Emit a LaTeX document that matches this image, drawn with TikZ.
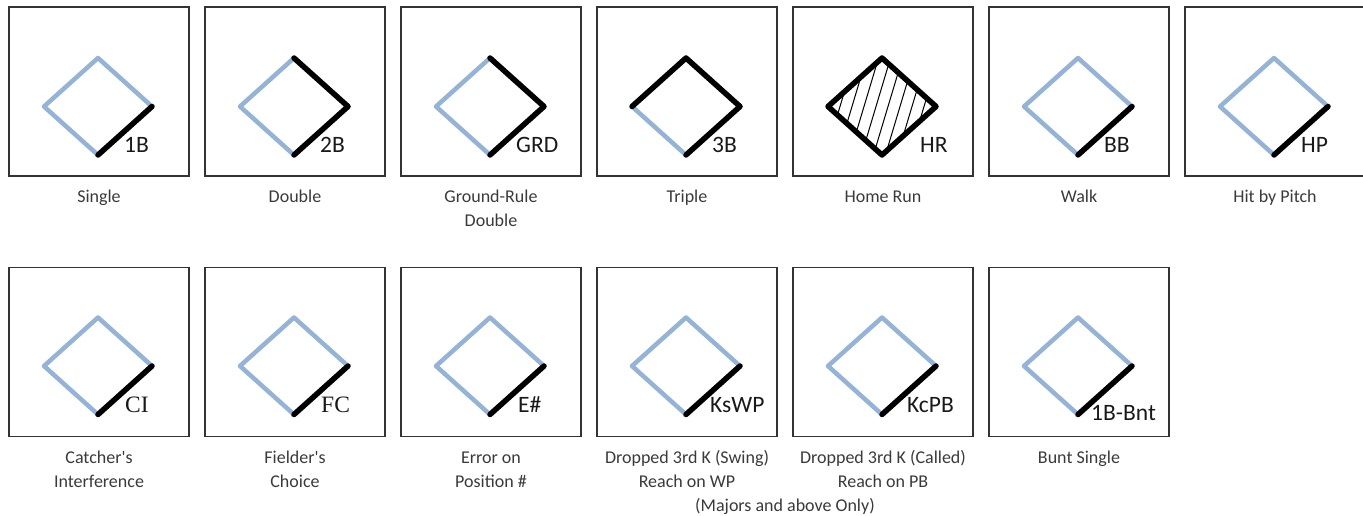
\documentclass[tikz,border=0pt]{standalone}
\usepackage{fontspec}
\setmainfont{Carlito}
\newfontfamily\serifmark{Liberation Serif}
\usetikzlibrary{shapes.geometric}
\definecolor{baseblue}{HTML}{95B3D7}
\definecolor{captiongray}{HTML}{3A3A3A}

\begin{document}
\begin{tikzpicture}[x=1pt, y=-1pt,
        box/.style={draw=black!80, line width=1.2pt, minimum width=180pt, minimum height=169pt, inner sep=0pt},
        bases/.style={diamond, draw=baseblue, line width=4.5pt, line join=round, minimum width=108pt, minimum height=97pt, inner sep=0pt, outer sep=0pt},
        reached/.style={draw=black, line width=5.5pt, line cap=round, line join=round},
        play/.style={font=\fontsize{23.5}{24}\selectfont, text=black!90, anchor=base west, inner sep=0pt},
        caption/.style={font=\fontsize{18}{24}\selectfont, text=captiongray, align=center, anchor=base, inner sep=0pt}]
        \useasboundingbox (0,0) rectangle (1363,516);

        % top row
        \node[box] (single) at (99,91.5) {};
        \node[bases] (singleb) at (98,106.5) {};
        \draw[reached] (singleb.south) -- (singleb.east);
        \node[play] (singlep) at (124,153) {1B};
        \node[caption] (singlec) at (99,202) {Single};

        \node[box] (double) at (295,91.5) {};
        \node[bases] (doubleb) at (294,106.5) {};
        \draw[reached] (doubleb.south) -- (doubleb.east) -- (doubleb.north);
        \node[play] (doublep) at (320,153) {2B};
        \node[caption] (doublec) at (295,202) {Double};

        \node[box] (ground) at (491,91.5) {};
        \node[bases] (groundb) at (490,106.5) {};
        \draw[reached] (groundb.south) -- (groundb.east) -- (groundb.north);
        \node[play] (groundp) at (516,153) {GRD};
        \node[caption] (groundc) at (491,226) {Ground-Rule\\Double};

        \node[box] (triple) at (687,91.5) {};
        \node[bases] (tripleb) at (686,106.5) {};
        \draw[reached] (tripleb.south) -- (tripleb.east) -- (tripleb.north) -- (tripleb.west);
        \node[play] (triplep) at (712,153) {3B};
        \node[caption] (triplec) at (687,202) {Triple};

        \node[box] (homerun) at (883,91.5) {};
        \node[bases, draw=black, line width=5.5pt] (homerunb) at (882,106.5) {};
        \begin{scope}
            \clip (homerunb.north) -- (homerunb.east) -- (homerunb.south) -- (homerunb.west) -- cycle;
            \foreach \dx in {-66,-54,...,66}
                \draw[line width=1pt] ([xshift=\dx pt]homerunb.center) ++(-18,60) -- ++(36,-120);
        \end{scope}
        \node[play] (homerunp) at (920,153) {HR};
        \node[caption] (homerunc) at (883,202) {Home Run};

        \node[box] (walk) at (1079,91.5) {};
        \node[bases] (walkb) at (1078,106.5) {};
        \draw[reached] (walkb.south) -- (walkb.east);
        \node[play] (walkp) at (1104,153) {BB};
        \node[caption] (walkc) at (1079,202) {Walk};

        \node[box] (hitpitch) at (1275,91.5) {};
        \node[bases] (hitpitchb) at (1274,106.5) {};
        \draw[reached] (hitpitchb.south) -- (hitpitchb.east);
        \node[play] (hitpitchp) at (1301,153) {HP};
        \node[caption] (hitpitchc) at (1275,202) {Hit by Pitch};

        % bottom row
        \node[box] (catcher) at (99,352) {};
        \node[bases] (catcherb) at (98,366) {};
        \draw[reached] (catcherb.south) -- (catcherb.east);
        \node[play, font=\serifmark\fontsize{23.5}{24}\selectfont] (catcherp) at (125,412) {CI};
        \node[caption] (catcherc) at (99,487) {Catcher\textquotesingle s\\Interference};

        \node[box] (fielder) at (295,352) {};
        \node[bases] (fielderb) at (294,366) {};
        \draw[reached] (fielderb.south) -- (fielderb.east);
        \node[play, font=\serifmark\fontsize{23.5}{24}\selectfont] (fielderp) at (321,412) {FC};
        \node[caption] (fielderc) at (295,487) {Fielder\textquotesingle s\\Choice};

        \node[box] (error) at (491,352) {};
        \node[bases] (errorb) at (490,366) {};
        \draw[reached] (errorb.south) -- (errorb.east);
        \node[play] (errorp) at (518,412) {E\#};
        \node[caption] (errorc) at (491,487) {Error on\\Position \#};

        \node[box] (swing) at (687,352) {};
        \node[bases] (swingb) at (686,366) {};
        \draw[reached] (swingb.south) -- (swingb.east);
        \node[play] (swingp) at (710,412) {KsWP};
        \node[caption] (swingc) at (687,487) {Dropped 3rd K (Swing)\\Reach on WP};

        \node[box] (called) at (883,352) {};
        \node[bases] (calledb) at (882,366) {};
        \draw[reached] (calledb.south) -- (calledb.east);
        \node[play] (calledp) at (907,412) {KcPB};
        \node[caption] (calledc) at (883,487) {Dropped 3rd K (Called)\\Reach on PB};

        \node[caption] (majors) at (785,511) {(Majors and above Only)};

        \node[box] (bunt) at (1079,352) {};
        \node[bases] (buntb) at (1078,366) {};
        \draw[reached] (buntb.south) -- (buntb.east);
        \node[play] (buntp) at (1091,420) {1B-Bnt};
        \node[caption] (buntc) at (1079,463) {Bunt Single};
    \end{tikzpicture}
\end{document}
